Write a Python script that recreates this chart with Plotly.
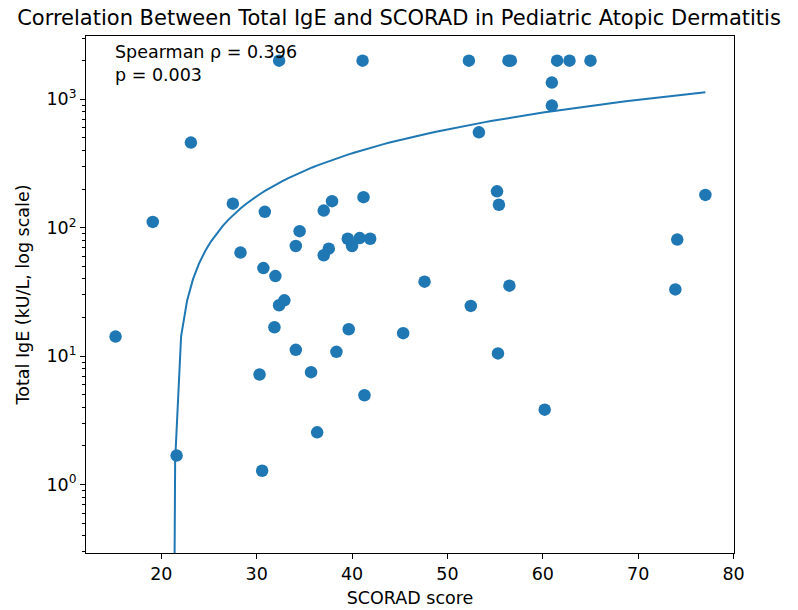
import numpy as np
import plotly.graph_objects as go

scorad = [15.2, 19.1, 21.6, 23.1, 27.5, 28.3, 30.7, 30.85, 30.3, 30.57,
          31.96, 32.9, 32.35, 31.86, 32.35, 34.1, 34.5, 34.1, 35.7, 36.34,
          37.03, 37.03, 37.9, 37.56, 38.36, 39.65, 39.55, 40.0, 40.8, 41.9,
          41.1, 41.2, 41.3, 45.36, 47.6, 52.25, 52.45, 53.3, 55.2, 55.4,
          55.3, 56.5, 56.4, 56.65, 60.2, 60.95, 60.95, 61.5, 62.8, 65.0,
          73.9, 74.1, 77.05]
ige = [14.2, 111, 1.68, 460, 154, 64, 48.5, 133, 7.2, 1.28,
       42, 27.2, 24.9, 16.8, 2000, 72, 94, 11.2, 7.5, 2.55,
       136, 61, 161, 68.7, 10.8, 16.2, 82, 72, 83, 82,
       2000, 173, 4.96, 15.1, 38, 2000, 24.6, 553, 192, 151,
       10.5, 35.4, 2000, 2000, 3.83, 1349, 893, 2000, 2000, 2000,
       33.1, 80.8, 180]
# linear trend line (IgE = slope * SCORAD + intercept)
fit_slope = 20.4
fit_intercept = -436.0
annot_lines = ["Spearman ρ = 0.396", "p = 0.003"]
title_text = "Correlation Between Total IgE and SCORAD in Pediatric Atopic Dermatitis"
xlabel = "SCORAD score"
ylabel = "Total IgE (kU/L, log scale)"
ytick_vals = [1, 10, 100, 1000]
ytick_text = ["10<sup>0</sup>", "10<sup>1</sup>", "10<sup>2</sup>", "10<sup>3</sup>"]
xtick_vals = [20, 30, 40, 50, 60, 70, 80]

x = np.array(scorad)
y = np.array(ige)
xf = np.linspace(x.min(), x.max(), 100)
yf = fit_slope * xf + fit_intercept
yf_plot = np.where(yf > 0, yf, 1e-8)

blue = "#1f77b4"
font = "DejaVu Sans"
fs = 17.5

fig = go.Figure()
fig.add_trace(go.Scatter(x=x, y=y, mode="markers",
                         marker=dict(color=blue, size=12.5, line=dict(width=0)),
                         showlegend=False))
fig.add_trace(go.Scatter(x=xf, y=yf_plot, mode="lines",
                         line=dict(color=blue, width=2), showlegend=False))

fig.update_layout(
    width=798, height=610,
    margin=dict(l=86, r=64, t=36, b=57),
    paper_bgcolor="white", plot_bgcolor="white",
    font=dict(family=font, size=fs, color="black"),
    title=dict(text=title_text, x=0.5, xanchor="center",
               y=1 - 18 / 610, yanchor="middle",
               font=dict(family=font, size=21, color="black")),
    annotations=[dict(text="<br>".join(annot_lines), xref="paper", yref="paper",
                      x=0.042, y=0.992, xanchor="left", yanchor="top", align="left",
                      showarrow=False, font=dict(family=font, size=fs, color="black"))],
)
fig.update_xaxes(range=[12.1, 80.05], tickvals=xtick_vals, ticks="outside", ticklen=5,
                 tickcolor="black", showline=True, linecolor="black", linewidth=1,
                 mirror=True, showgrid=False, zeroline=False, automargin=False,
                 tickfont=dict(size=fs),
                 title=dict(text=xlabel, font=dict(size=fs), standoff=8))
minor_vals = [m * 10 ** d for d in range(-1, 4) for m in range(2, 10)]
fig.update_yaxes(type="log", range=[-0.533, 3.493], tickvals=ytick_vals, ticktext=ytick_text,
                 ticks="outside", ticklen=5, tickcolor="black", showline=True,
                 linecolor="black", linewidth=1, mirror=True, showgrid=False,
                 zeroline=False, automargin=False, tickfont=dict(size=fs),
                 minor=dict(tickvals=minor_vals, ticks="outside", ticklen=3,
                            tickcolor="black", showgrid=False),
                 title=dict(text=ylabel, font=dict(size=fs), standoff=12))

fig.write_html("out.html", config={"displayModeBar": False},
               post_script="document.body.style.margin='0';")
